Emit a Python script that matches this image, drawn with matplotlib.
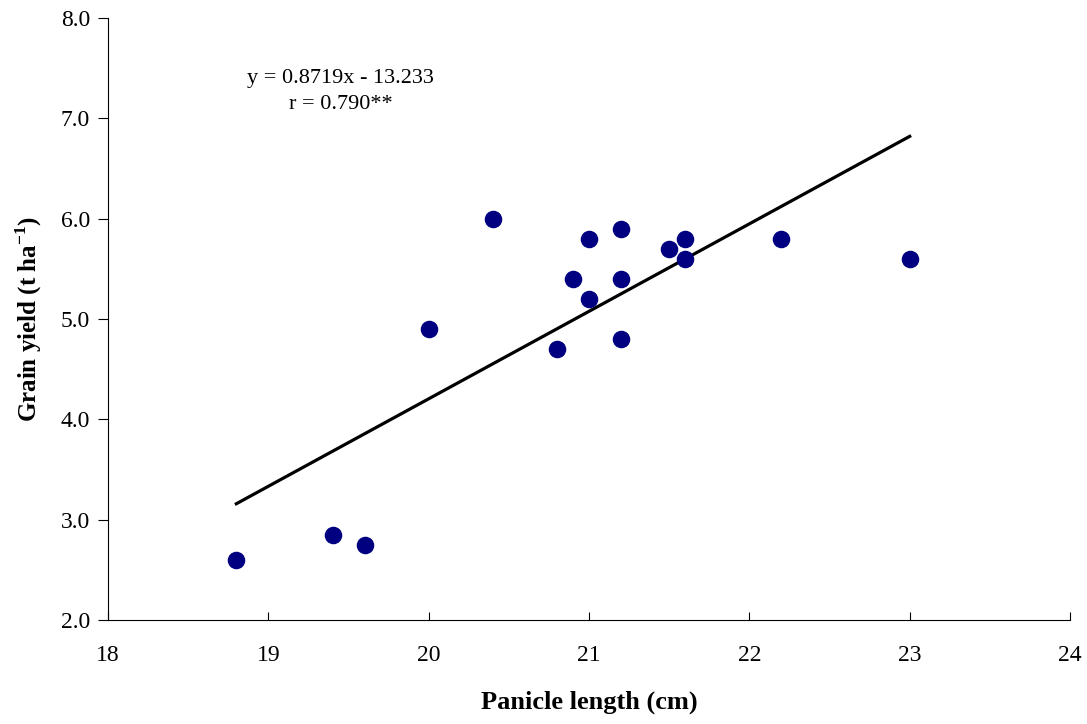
import numpy as np
import matplotlib.pyplot as plt

# panicle length (cm) vs grain yield (t/ha)
panicle_len = [18.8, 19.4, 19.6, 20.0, 20.4, 20.8, 20.9, 21.0, 21.0, 21.2,
               21.2, 21.2, 21.5, 21.6, 21.6, 22.2, 23.0]
grain_yield = [2.6, 2.85, 2.75, 4.9, 6.0, 4.7, 5.4, 5.8, 5.2, 5.9,
               5.4, 4.8, 5.7, 5.8, 5.6, 5.8, 5.6]
slope, intercept = 0.8719, -13.233

plt.rcParams['font.family'] = ['Liberation Serif', 'DejaVu Serif']
plt.rcParams['mathtext.fontset'] = 'custom'
plt.rcParams['mathtext.rm'] = 'Liberation Serif'
plt.rcParams['mathtext.bf'] = 'Liberation Serif:bold'

fig = plt.figure(figsize=(10.87, 7.24), dpi=100)
ax = fig.add_axes([0.0994, 0.1436, 0.885, 0.8315])

ax.scatter(panicle_len, grain_yield, s=135, color='#000080', zorder=3)
xl = np.array([min(panicle_len), max(panicle_len)])
ax.plot(xl, slope * xl + intercept, color='black', lw=2.3, zorder=2)

ax.set_xlim(18, 24)
ax.set_ylim(2.0, 8.0)
ax.set_xticks(range(18, 25))
ax.set_yticks(np.arange(2.0, 8.01, 1.0))
ax.set_yticklabels([f"{v:.1f}" for v in np.arange(2.0, 8.01, 1.0)])
ax.tick_params(axis='x', direction='in', length=6, labelsize=17, pad=18)
ax.tick_params(axis='y', direction='out', length=7, labelsize=17, pad=6)
for s in ['top', 'right']:
    ax.spines[s].set_visible(False)

ax.set_xlabel('Panicle length (cm)', fontsize=19, fontweight='bold', labelpad=18)
ax.set_ylabel('Grain yield (t ha$^{\\mathbf{-1}}$)', fontsize=18, fontweight='bold', labelpad=12)

ax.text(0.242, 0.878, 'y = 0.8719x - 13.233\nr = 0.790**', transform=ax.transAxes,
        ha='center', va='center', fontsize=16, linespacing=1.5)

fig.savefig('out.png', dpi=100)
